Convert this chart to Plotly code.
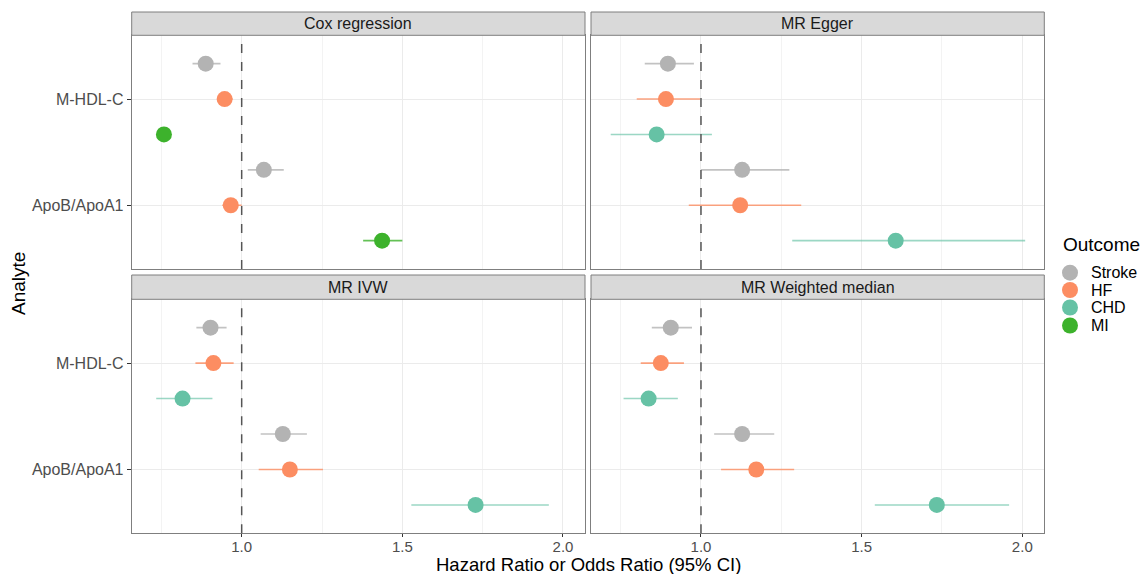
import plotly.graph_objects as go

# ---- data ----
panels = ["Cox regression", "MR Egger", "MR IVW", "MR Weighted median"]
analytes = ["M-HDL-C", "ApoB/ApoA1"]
outcomes = ["Stroke", "HF", "CHD", "MI"]
colors = {"Stroke": "#B3B3B3", "HF": "#FC8D62", "CHD": "#66C2A5", "MI": "#3DB22C"}
bar_colors = {"Stroke": "rgba(179,179,179,0.8)", "HF": "rgba(252,141,98,0.8)",
              "CHD": "rgba(102,194,165,0.65)", "MI": "rgba(61,178,44,0.8)"}

# per panel: outcome -> [M-HDL-C, ApoB/ApoA1]
cox_outcomes = ["Stroke", "HF", "MI"]
cox_est = {"Stroke": [0.888, 1.069], "HF": [0.947, 0.966], "MI": [0.758, 1.437]}
cox_lo = {"Stroke": [0.847, 1.019], "HF": [0.925, 0.94], "MI": [0.745, 1.378]}
cox_hi = {"Stroke": [0.934, 1.131], "HF": [0.972, 1.0], "MI": [0.772, 1.50]}

egger_outcomes = ["Stroke", "HF", "CHD"]
egger_est = {"Stroke": [0.897, 1.128], "HF": [0.891, 1.122], "CHD": [0.862, 1.606]}
egger_lo = {"Stroke": [0.825, 1.0], "HF": [0.80, 0.962], "CHD": [0.719, 1.284]}
egger_hi = {"Stroke": [0.978, 1.275], "HF": [0.997, 1.312], "CHD": [1.034, 2.009]}

ivw_outcomes = ["Stroke", "HF", "CHD"]
ivw_est = {"Stroke": [0.903, 1.128], "HF": [0.912, 1.15], "CHD": [0.816, 1.728]}
ivw_lo = {"Stroke": [0.859, 1.059], "HF": [0.856, 1.053], "CHD": [0.734, 1.528]}
ivw_hi = {"Stroke": [0.953, 1.203], "HF": [0.975, 1.253], "CHD": [0.909, 1.956]}

wm_outcomes = ["Stroke", "HF", "CHD"]
wm_est = {"Stroke": [0.906, 1.128], "HF": [0.875, 1.172], "CHD": [0.837, 1.734]}
wm_lo = {"Stroke": [0.847, 1.041], "HF": [0.8125, 1.0625], "CHD": [0.759, 1.541]}
wm_hi = {"Stroke": [0.972, 1.228], "HF": [0.947, 1.29], "CHD": [0.928, 1.959]}

x_ticks = [1.0, 1.5, 2.0]
x_tick_labels = ["1.0", "1.5", "2.0"]
x_minor = [0.75, 1.25, 1.75]

panel_data = [
    (cox_outcomes, cox_est, cox_lo, cox_hi),
    (egger_outcomes, egger_est, egger_lo, egger_hi),
    (ivw_outcomes, ivw_est, ivw_lo, ivw_hi),
    (wm_outcomes, wm_est, wm_lo, wm_hi),
]

# ---- layout geometry (page pixels; body margin removed via post_script) ----
W, H = 1143, 574
xl = [(131.7, 585.0), (591.0, 1044.3)]
yt = [(35.3, 269.0), (299.3, 533.3)]
strips = [(12.0, 35.3), (275.0, 299.3)]
FONT = "Liberation Sans, Arial, sans-serif"


def px_x(p):
    return p / W


def px_y(p):
    return 1 - p / H


fig = go.Figure()
analyte_pos = {"M-HDL-C": 2, "ApoB/ApoA1": 1}
dodge = [1 / 3, 0, -1 / 3]

for i, (outs, est, lo, hi) in enumerate(panel_data):
    ax = "" if i == 0 else str(i + 1)
    for k, o in enumerate(outs):
        ys = [analyte_pos[a] + dodge[k] for a in analytes]
        xs = est[o]
        fig.add_trace(go.Scatter(
            x=xs, y=ys, mode="markers",
            marker=dict(size=16, color=colors[o]),
            error_x=dict(type="data", symmetric=False,
                         array=[h - e for h, e in zip(hi[o], xs)],
                         arrayminus=[e - l for e, l in zip(xs, lo[o])],
                         color=bar_colors[o], thickness=1.6, width=0),
            xaxis="x" + ax, yaxis="y" + ax,
            name=o, showlegend=False, hoverinfo="skip",
        ))

axis_font = dict(family=FONT, size=15, color="#4D4D4D")
layout = {}
for i in range(4):
    r, c = divmod(i, 2)
    ax = "" if i == 0 else str(i + 1)
    x0, x1 = xl[c]
    y0, y1 = yt[r]
    layout["xaxis" + ax] = dict(
        domain=[px_x(x0), px_x(x1)], range=[0.6577, 2.0685],
        anchor="y" + ax, tickvals=x_ticks, ticktext=x_tick_labels,
        showticklabels=(r == 1), ticks="outside" if r == 1 else "",
        ticklen=3, tickcolor="#333333", tickfont=axis_font,
        ticklabelstandoff=-3,
        showgrid=True, gridcolor="#EBEBEB", gridwidth=1,
        minor=dict(tickvals=x_minor, showgrid=True, gridcolor="#F3F3F3", gridwidth=0.6),
        zeroline=False, showline=True, mirror=True, linecolor="#7F7F7F", linewidth=1,
    )
    layout["yaxis" + ax] = dict(
        domain=[px_y(y1), px_y(y0)], range=[0.4, 2.6],
        anchor="x" + ax, tickvals=[2, 1], ticktext=analytes,
        showticklabels=(c == 0), ticks="outside" if c == 0 else "",
        ticklen=4, tickcolor="#333333", tickfont=dict(family=FONT, size=16, color="#4D4D4D"),
        showgrid=True, gridcolor="#EBEBEB", gridwidth=1,
        zeroline=False, showline=True, mirror=True, linecolor="#7F7F7F", linewidth=1,
    )

shapes = []
annotations = []
for i in range(4):
    r, c = divmod(i, 2)
    ax = "" if i == 0 else str(i + 1)
    shapes.append(dict(type="line", xref="x" + ax, yref="y" + ax + " domain",
                       x0=1, x1=1, y0=0, y1=1,
                       line=dict(color="#555555", width=1.5, dash="dash")))
    x0, x1 = xl[c]
    s0, s1 = strips[r]
    shapes.append(dict(type="rect", xref="paper", yref="paper",
                       x0=px_x(x0), x1=px_x(x1), y0=px_y(s1), y1=px_y(s0),
                       fillcolor="#D9D9D9", line=dict(color="#7F7F7F", width=1)))
    annotations.append(dict(text=panels[i], xref="paper", yref="paper",
                            x=px_x((x0 + x1) / 2), y=px_y((s0 + s1) / 2),
                            xanchor="center", yanchor="middle", showarrow=False,
                            font=dict(family=FONT, size=16, color="#1A1A1A")))

annotations.append(dict(text="Hazard Ratio or Odds Ratio (95% CI)", xref="paper", yref="paper",
                        x=px_x(588), y=px_y(564), xanchor="center", yanchor="middle",
                        showarrow=False, font=dict(family=FONT, size=18.5, color="#000000")))
annotations.append(dict(text="Analyte", xref="paper", yref="paper",
                        x=px_x(19), y=px_y(284), xanchor="center", yanchor="middle",
                        textangle=-90, showarrow=False,
                        font=dict(family=FONT, size=19, color="#000000")))

# manual legend (ggplot-style spacing)
annotations.append(dict(text="Outcome", xref="paper", yref="paper",
                        x=px_x(1061), y=px_y(245), xanchor="left", yanchor="middle",
                        showarrow=False, font=dict(family=FONT, size=19, color="#000000")))
legend_y = [272.7, 290.0, 307.5, 325.5]
for o, ly in zip(outcomes, legend_y):
    shapes.append(dict(type="circle", xref="paper", yref="paper",
                       xsizemode="pixel", ysizemode="pixel",
                       xanchor=px_x(1070), yanchor=px_y(ly),
                       x0=-8, x1=8, y0=-8, y1=8,
                       fillcolor=colors[o], line=dict(width=0)))
    annotations.append(dict(text=o, xref="paper", yref="paper",
                            x=px_x(1089), y=px_y(ly), xanchor="left", yanchor="middle",
                            showarrow=False, font=dict(family=FONT, size=16, color="#000000")))

fig.update_layout(
    width=W, height=H,
    margin=dict(l=0, r=0, t=0, b=0),
    paper_bgcolor="white", plot_bgcolor="white",
    shapes=shapes, annotations=annotations,
    showlegend=False, hovermode=False,
    **layout,
)

fig.write_html("out.html", config={"displayModeBar": False},
               post_script="document.body.style.margin='0';document.body.style.overflow='hidden';")
